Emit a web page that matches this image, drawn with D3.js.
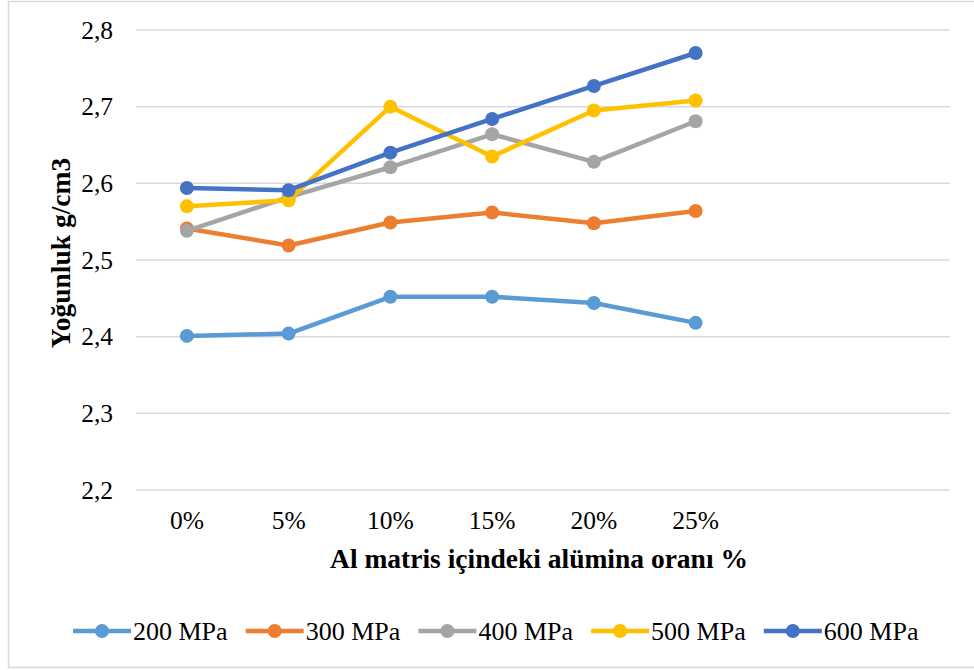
<!DOCTYPE html>
<html>
<head>
<meta charset="utf-8">
<script src="https://cdn.jsdelivr.net/npm/d3@7"></script>
<style>
  html, body { margin: 0; padding: 0; background: #fff; }
  svg { display: block; }
</style>
</head>
<body>
<svg id="chart" width="974" height="670"></svg>
<script>
// Alumina ratio in the Al matrix (two trailing empty slots on the category axis)
const categories = ["0%", "5%", "10%", "15%", "20%", "25%", "", " "];
const seriesNames = ["200 MPa", "300 MPa", "400 MPa", "500 MPa", "600 MPa"];
const seriesColors = ["#5B9BD5", "#ED7D31", "#A5A5A5", "#FFC000", "#4472C4"];
// Density (g/cm3) for each compaction pressure
const d200 = [2.401, 2.404, 2.452, 2.452, 2.444, 2.418];
const d300 = [2.541, 2.519, 2.549, 2.562, 2.548, 2.564];
const d400 = [2.538, 2.582, 2.621, 2.664, 2.628, 2.681];
const d500 = [2.570, 2.578, 2.700, 2.635, 2.695, 2.708];
const d600 = [2.594, 2.591, 2.640, 2.684, 2.727, 2.770];
const yTicks = [2.2, 2.3, 2.4, 2.5, 2.6, 2.7, 2.8];

const FONT = "'Liberation Serif', 'Times New Roman', Tinos, 'DejaVu Serif', serif";

const seriesValues = [d200, d300, d400, d500, d600];
const series = seriesNames.map((name, i) => ({ name, color: seriesColors[i], values: seriesValues[i] }));

const svg = d3.select("#chart");

// outer chart frame
svg.append("rect")
  .attr("x", 8.5).attr("y", 1.5)
  .attr("width", 980).attr("height", 666)
  .attr("fill", "#fff").attr("stroke", "#d9d9d9").attr("stroke-width", 1.5);

const plot = { left: 136, right: 950, top: 30, bottom: 490 };

const x = d3.scaleBand().domain(categories).range([plot.left, plot.right]);
const y = d3.scaleLinear().domain([2.2, 2.8]).range([plot.bottom, plot.top]);

// horizontal gridlines
svg.append("g")
  .selectAll("line")
  .data(yTicks)
  .join("line")
  .attr("x1", plot.left).attr("x2", plot.right)
  .attr("y1", d => y(d)).attr("y2", d => y(d))
  .attr("stroke", "#d9d9d9").attr("stroke-width", 1.5);

const fmt = d => d3.format(".1f")(d).replace(".", ",");

// y axis labels
const yAxis = svg.append("g")
  .attr("transform", `translate(${plot.left},0)`)
  .call(d3.axisLeft(y).tickValues(yTicks).tickFormat(fmt).tickSize(0).tickPadding(23))
  .attr("font-family", null).attr("font-size", null);
yAxis.select(".domain").remove();
yAxis.selectAll("text")
  .style("font-family", FONT)
  .style("font-size", "25.5px")
  .attr("fill", "#000");

// x axis labels
const xAxis = svg.append("g")
  .attr("transform", `translate(0,${plot.bottom})`)
  .call(d3.axisBottom(x).tickSize(0).tickPadding(21))
  .attr("font-family", null).attr("font-size", null);
xAxis.select(".domain").remove();
xAxis.selectAll("text")
  .style("font-family", FONT)
  .style("font-size", "25.5px")
  .attr("fill", "#000");

// axis titles
svg.append("text")
  .attr("x", (plot.left + plot.right) / 2 - 4)
  .attr("y", 568)
  .attr("text-anchor", "middle")
  .style("font-family", FONT)
  .style("font-size", "27.5px")
  .style("font-weight", "bold")
  .text("Al matris içindeki alümina oranı %");

svg.append("text")
  .attr("transform", `translate(70,${(plot.top + plot.bottom) / 2 - 7}) rotate(-90)`)
  .attr("text-anchor", "middle")
  .style("font-family", FONT)
  .style("font-size", "27.5px")
  .style("font-weight", "bold")
  .text("Yoğunluk g/cm3");

// series lines and markers
const line = d3.line()
  .x((d, i) => x(categories[i]) + x.bandwidth() / 2)
  .y(d => y(d));

const g = svg.append("g");
series.forEach(s => {
  g.append("path")
    .datum(s.values)
    .attr("d", line)
    .attr("fill", "none")
    .attr("stroke", s.color)
    .attr("stroke-width", 4.5)
    .attr("stroke-linejoin", "round");
  g.selectAll(null)
    .data(s.values)
    .join("circle")
    .attr("cx", (d, i) => x(categories[i]) + x.bandwidth() / 2)
    .attr("cy", d => y(d))
    .attr("r", 7)
    .attr("fill", s.color);
});

// legend
const legend = svg.append("g").attr("transform", "translate(73,631)");
const item = legend.selectAll("g")
  .data(series)
  .join("g")
  .attr("transform", (d, i) => `translate(${i * 172.7},0)`);
item.append("line")
  .attr("x1", 0).attr("x2", 58).attr("y1", 0).attr("y2", 0)
  .attr("stroke", d => d.color).attr("stroke-width", 4.5);
item.append("circle")
  .attr("cx", 29).attr("cy", 0).attr("r", 7)
  .attr("fill", d => d.color);
item.append("text")
  .attr("x", 60).attr("y", 9)
  .style("font-family", FONT)
  .style("font-size", "26px")
  .text(d => d.name);
</script>
</body>
</html>
